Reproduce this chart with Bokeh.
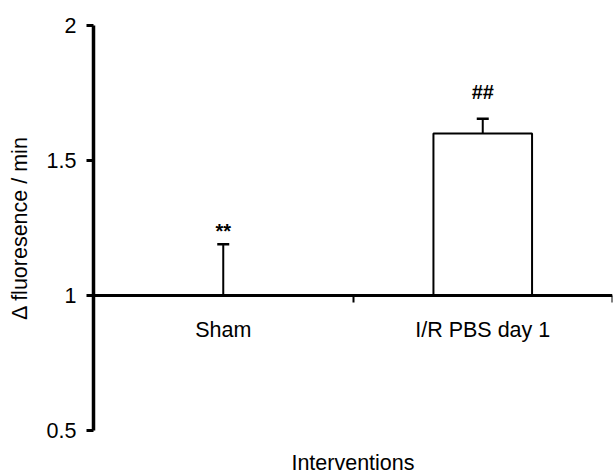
from bokeh.plotting import figure
from bokeh.models import (Range1d, LinearAxis, FixedTicker,
                          Whisker, TeeHead, ColumnDataSource, NumeralTickFormatter)
from bokeh.core.properties import value
from bokeh.embed import file_html
from bokeh.resources import INLINE

# ---- data ----
categories = ["Sham", "I/R PBS day 1"]
means = [1.0, 1.6]
errors = [0.19, 0.055]
sig_labels = ["**", "##"]
y_ticks = [0.5, 1, 1.5, 2]
baseline = 1.0
y_label = "\u0394 fluoresence / min"
x_label = "Interventions"

FONT = "Liberation Sans"
FS = "21.5px"

n = len(categories)
centers = [i + 0.5 for i in range(n)]
edges = [i + 1 for i in range(n)]

src = ColumnDataSource(dict(
    x=centers,
    top=means,
    lower=means,
    upper=[m + e for m, e in zip(means, errors)],
    sig=sig_labels,
    yoff=[-13, -27],
))

p = figure(x_range=Range1d(0, n),
           y_range=Range1d(y_ticks[0], y_ticks[-1]),
           frame_width=519, frame_height=405,
           min_border_left=93, min_border_right=1, min_border_top=25, min_border_bottom=45,
           output_backend="svg", toolbar_location=None,
           x_axis_location=None, y_axis_location="left")
p.outline_line_color = None
p.grid.visible = False
p.background_fill_color = "white"
p.border_fill_color = "white"

# y axis
ya = p.yaxis[0]
ya.ticker = FixedTicker(ticks=y_ticks)
ya.formatter = NumeralTickFormatter(format="0.[0]")
ya.axis_line_width = 3.5
ya.axis_line_color = "black"
ya.major_tick_out = 7
ya.major_tick_in = 0
ya.major_tick_line_width = 3
ya.minor_tick_line_color = None
ya.major_label_standoff = 10
ya.major_label_text_font = FONT
ya.major_label_text_font_size = FS
ya.major_label_text_color = "black"
ya.axis_label = y_label
ya.axis_label_text_font = FONT
ya.axis_label_text_font_size = FS
ya.axis_label_text_font_style = "normal"
ya.axis_label_text_color = "black"
ya.axis_label_standoff = 12

# x axes at y = baseline
cat_axis = LinearAxis(fixed_location=baseline, axis_line_color=None,
                      ticker=FixedTicker(ticks=centers),
                      major_label_overrides={c: lab for c, lab in zip(centers, categories)},
                      major_tick_line_color=None, minor_tick_line_color=None,
                      major_label_standoff=16, major_label_text_font=FONT,
                      major_label_text_font_size=FS, major_label_text_color="black")
p.add_layout(cat_axis, "below")
edge_axis = LinearAxis(fixed_location=baseline,
                       ticker=FixedTicker(ticks=edges),
                       major_label_text_alpha=0, axis_line_width=3, axis_line_color="black",
                       major_tick_line_width=2, major_tick_out=7, major_tick_in=0,
                       minor_tick_line_color=None)
p.add_layout(edge_axis, "below")
title_axis = LinearAxis(ticker=FixedTicker(ticks=[]),
                        axis_line_color=None, major_tick_line_color=None,
                        minor_tick_line_color=None, major_tick_out=0,
                        axis_label=x_label, axis_label_standoff=20,
                        axis_label_text_font=FONT, axis_label_text_font_size=FS,
                        axis_label_text_font_style="normal", axis_label_text_color="black")
p.add_layout(title_axis, "below")

# bars
p.vbar(x="x", top="top", bottom=baseline, width=0.38, source=src,
       fill_color="white", line_color="black", line_width=2)

# error bars
w = Whisker(base="x", lower="lower", upper="upper", source=src,
            line_color="black", line_width=2, level="glyph",
            upper_head=TeeHead(size=12, line_width=2.5, line_color="black"),
            lower_head=None)
p.add_layout(w)

# significance marks
p.text(x="x", y="upper", text="sig", source=src, y_offset="yoff",
       text_align="center", text_baseline="alphabetic",
       text_font=value(FONT), text_font_size="20px", text_font_style="bold",
       text_color="black")

open("out.html", "w").write(file_html(p, INLINE))
